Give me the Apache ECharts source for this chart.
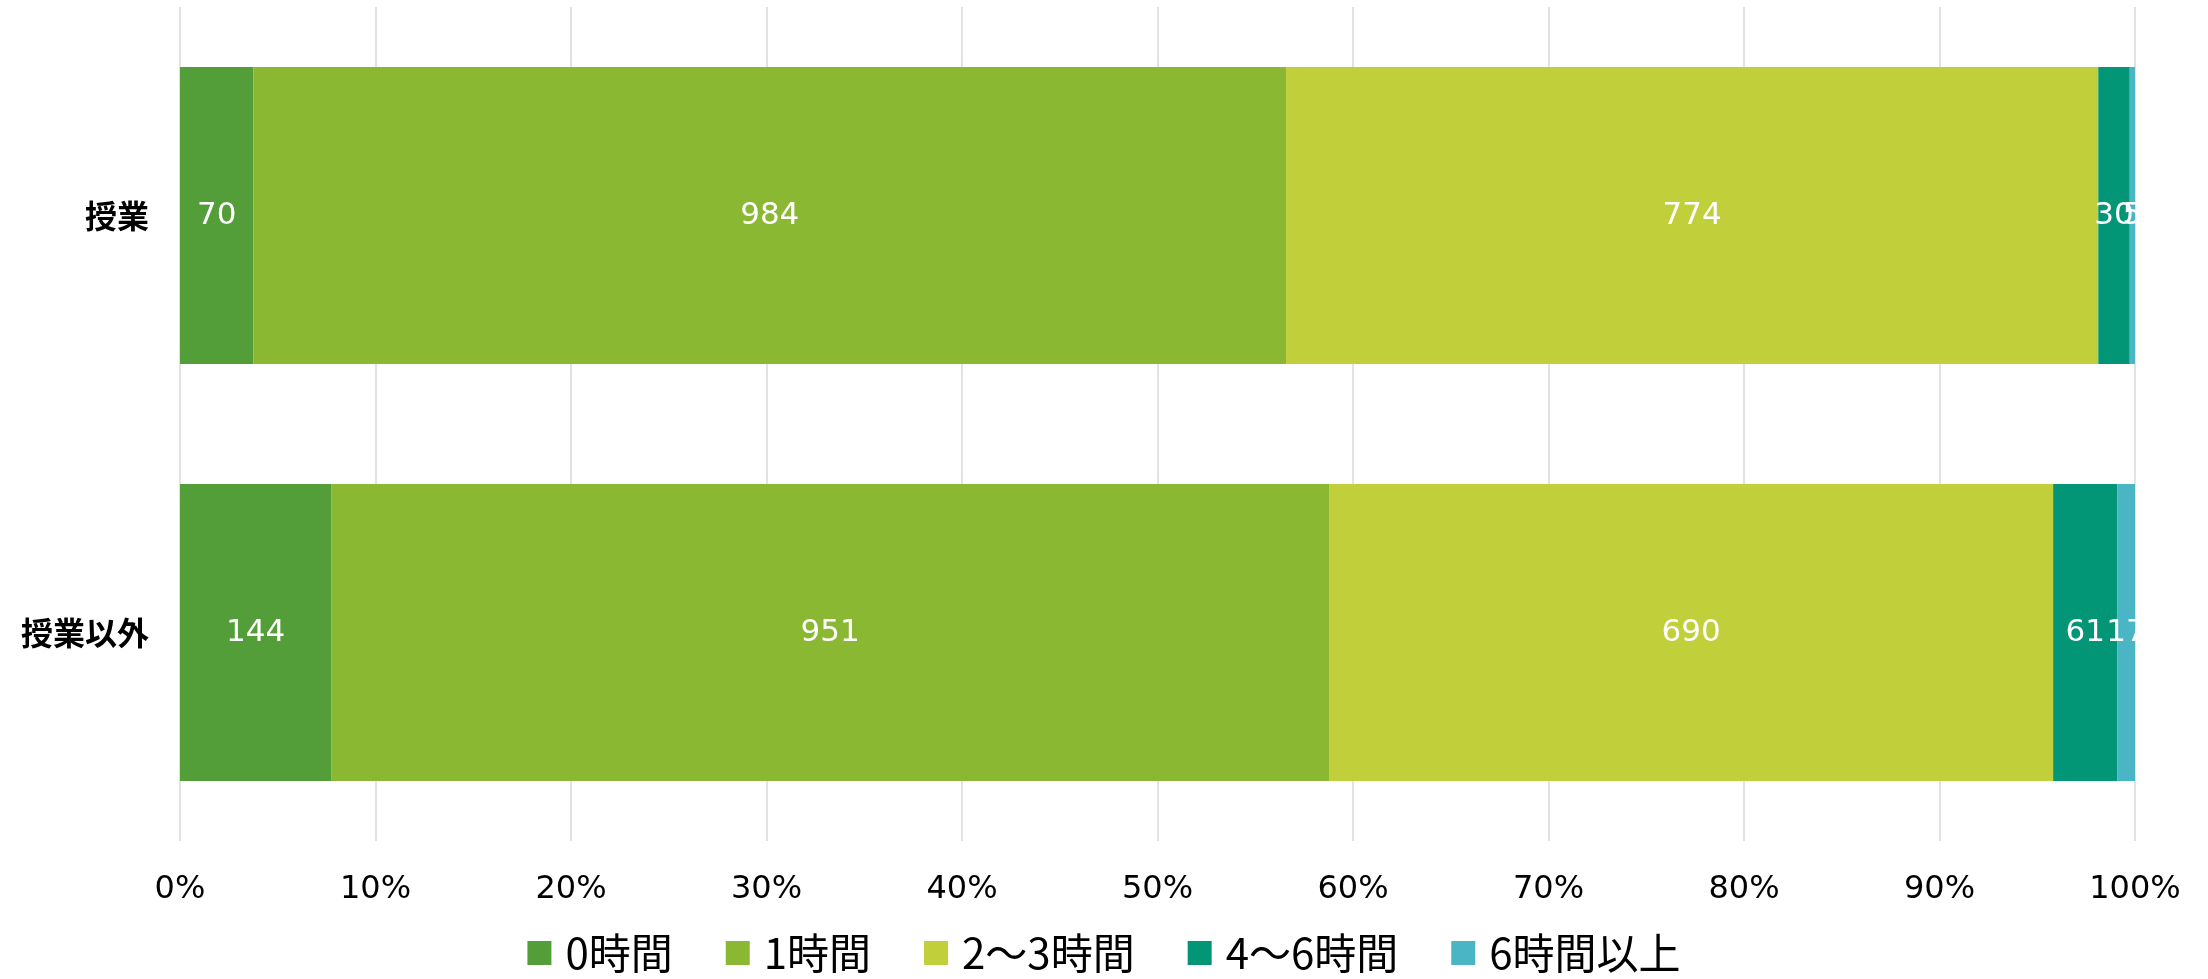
<!DOCTYPE html>
<html>
<head>
<meta charset="utf-8">
<title>授業時間</title>
<script src="https://cdn.jsdelivr.net/npm/echarts@6/dist/echarts.min.js"></script>
<style>
  html, body { margin: 0; padding: 0; background: #fff; }
  #chart { width: 2208px; height: 979px; }
</style>
</head>
<body>
<div id="chart"></div>
<script>
// カテゴリ（上から順）
const categories = ['授業', '授業以外']
// 系列名
const seriesNames = ['0時間', '1時間', '2～3時間', '4～6時間', '6時間以上']
// 各系列の人数（categories と同じ順）
const hours0 = [70, 144]
const hours1 = [984, 951]
const hours2to3 = [774, 690]
const hours4to6 = [30, 61]
const hours6plus = [5, 17]
const colors = ['#549E39', '#8AB833', '#C0CF3A', '#029676', '#4AB5C4']

const counts = [hours0, hours1, hours2to3, hours4to6, hours6plus]

/* カテゴリごとの合計（100%積み上げ用） */
const totals = categories.map((c, i) => counts.reduce((s, arr) => s + arr[i], 0))

const myChart = echarts.init(document.getElementById('chart'))
myChart.setOption({
  animation: false,
  textStyle: { fontFamily: '"DejaVu Sans", "Noto Sans CJK JP", sans-serif' },
  grid: { left: 180, right: 73, top: 7, bottom: 138, containLabel: false },
  xAxis: {
    type: 'value',
    min: 0,
    max: 100,
    interval: 10,
    axisLine: { show: false },
    axisTick: { show: false },
    splitLine: { lineStyle: { color: '#d9d9d9', width: 1.5 } },
    axisLabel: {
      formatter: '{value}%',
      color: '#000',
      fontSize: 32,
      margin: 33
    }
  },
  yAxis: {
    type: 'category',
    inverse: true,
    data: categories,
    axisLine: { show: false },
    axisTick: { show: false },
    axisLabel: {
      color: '#000',
      fontSize: 32,
      fontWeight: 'bold',
      fontFamily: '"Noto Sans CJK JP", sans-serif',
      margin: 31
    }
  },
  legend: {
    bottom: 0,
    left: 'center',
    itemWidth: 24,
    itemHeight: 24,
    itemGap: 53,
    icon: 'rect',
    textStyle: {
      fontSize: 42,
      color: '#000',
      padding: [0, 0, 0, 9],
      fontFamily: '"Noto Sans CJK JP", sans-serif'
    },
    data: seriesNames
  },
  series: seriesNames.map((name, k) => ({
    name: name,
    type: 'bar',
    stack: 'total',
    barWidth: 297,
    itemStyle: { color: colors[k] },
    label: {
      show: true,
      position: 'inside',
      color: '#fff',
      fontSize: 31,
      formatter: p => counts[k][p.dataIndex]
    },
    data: counts[k].map((v, i) => v / totals[i] * 100)
  }))
})
</script>
</body>
</html>
